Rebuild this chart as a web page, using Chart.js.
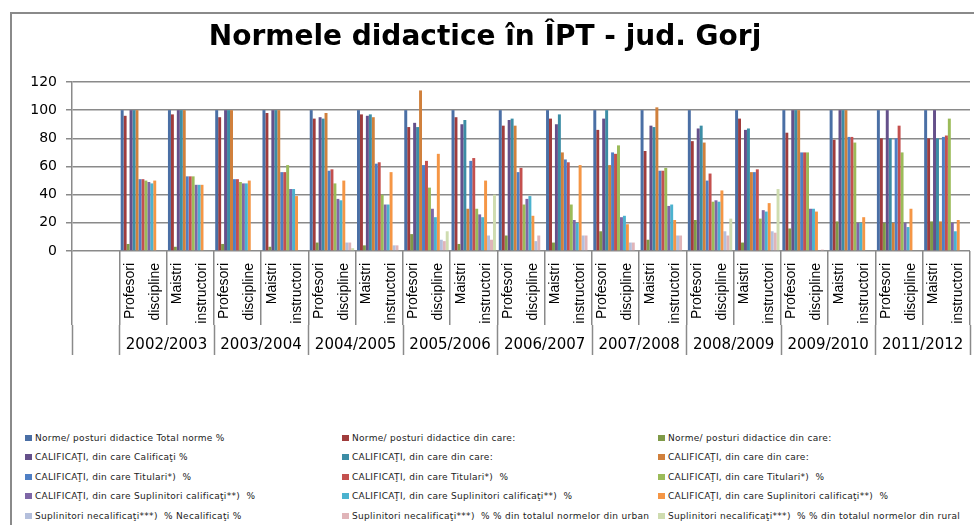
<!DOCTYPE html>
<html lang="ro">
<head>
    <meta charset="UTF-8">
    <title>Normele didactice în ÎPT - jud. Gorj</title>
    <script src="https://cdn.jsdelivr.net/npm/chart.js"></script>
    <style>
        body {
            margin: 0;
            background: #fff;
            overflow: hidden;
            font-family: 'DejaVu Sans', sans-serif;
        }
        #frame {
            position: absolute;
            left: 10px;
            top: 12px;
            width: 1000px;
            height: 600px;
            border: 2px solid #8a8a8a;
        }
        #chartBox {
            position: absolute;
            left: 0;
            top: 0;
            width: 974px;
            height: 360px;
        }
        #legend {
            position: absolute;
            left: 25px;
            top: 428px;
            display: grid;
            grid-template-columns: 317px 316px 320px;
            grid-auto-rows: 19.5px;
            font-size: 9px;
            letter-spacing: 0.3px;
            color: #222;
        }
        #legend .item {
            display: flex;
            align-items: center;
            white-space: pre;
        }
        #legend .box {
            width: 7px;
            height: 6px;
            margin-right: 3px;
            flex: none;
        }
    </style>
</head>
<body>
    <div id="frame"></div>
    <div id="chartBox"><canvas id="normeChart"></canvas></div>
    <div id="legend"></div>

    <script>
        // categorii: cate doua pe an scolar
        const categorii = [
            ['Profesori', 'discipline'], ['Maistri', 'instructori']
        ];
        const aniScolari = ['2002/2003', '2003/2004', '2004/2005', '2005/2006', '2006/2007',
                            '2007/2008', '2008/2009', '2009/2010', '2011/2012'];

        // valori %, cate una pe categorie (Profesori, Maistri pentru fiecare an)
        const normeTotal        = [100, 100, 100, 100, 100, 100, 100, 100, 100, 100, 100, 100, 100, 100, 100, 100, 100, 100];
        const normeDinCare1     = [96, 97, 95, 98, 94, 97, 88, 95, 89, 94, 86, 71, 78, 94, 84, 79, 80, 80];
        const normeDinCare2     = [5, 3, 5, 3, 6, 4, 12, 5, 11, 6, 14, 8, 22, 6, 16, 21, 20, 21];
        const calificati        = [100, 100, 100, 100, 95, 96, 91, 90, 93, 90, 94, 89, 87, 86, 100, 100, 100, 100];
        const califDinCare1     = [100, 100, 100, 100, 94, 97, 88, 93, 94, 97, 100, 88, 89, 87, 100, 100, 80, 80];
        const califDinCare2     = [100, 100, 100, 100, 98, 95, 114, 30, 89, 70, 61, 102, 77, 56, 100, 100, 20, 21];
        const titulari1         = [51, 53, 51, 56, 57, 62, 61, 64, 56, 65, 70, 57, 50, 56, 70, 81, 80, 81];
        const titulari2         = [51, 53, 51, 56, 58, 63, 64, 66, 59, 63, 69, 57, 55, 58, 70, 81, 89, 82];
        const titulari3         = [50, 53, 49, 61, 48, 40, 45, 30, 33, 33, 75, 59, 35, 23, 70, 77, 70, 94];
        const suplCalif1        = [49, 47, 48, 44, 37, 33, 30, 26, 37, 22, 24, 32, 36, 29, 30, 20, 20, 20];
        const suplCalif2        = [48, 47, 48, 44, 36, 33, 24, 24, 39, 20, 25, 33, 35, 28, 30, 20, 17, 14];
        const suplCalif3        = [50, 47, 50, 39, 50, 56, 69, 50, 25, 61, 19, 22, 43, 34, 28, 24, 30, 22];
        const necalificati      = [0, 0, 0, 0, 6, 4, 8, 11, 7, 11, 6, 11, 14, 14, 0, 0, 0, 0];
        const necalifUrban      = [0, 0, 0, 0, 6, 4, 7, 8, 11, 11, 6, 11, 11, 13, 1, 0, 0, 0];
        const necalifRural      = [0, 0, 0, 0, 2, 0, 14, 40, 0, 0, 0, 0, 23, 44, 0, 0, 0, 0];

        const serii = [
            { label: 'Norme/ posturi didactice Total norme %', data: normeTotal, color: '#4a6fa5' },
            { label: 'Norme/ posturi didactice din care:', data: normeDinCare1, color: '#a03c3c' },
            { label: 'Norme/ posturi didactice din care:', data: normeDinCare2, color: '#7f9a48' },
            { label: 'CALIFICAŢI, din care Calificaţi %', data: calificati, color: '#65508a' },
            { label: 'CALIFICAŢI, din care din care:', data: califDinCare1, color: '#3c8da5' },
            { label: 'CALIFICAŢI, din care din care:', data: califDinCare2, color: '#d0803c' },
            { label: 'CALIFICAŢI, din care Titulari*)  %', data: titulari1, color: '#4f7fc4' },
            { label: 'CALIFICAŢI, din care Titulari*)  %', data: titulari2, color: '#c4504e' },
            { label: 'CALIFICAŢI, din care Titulari*)  %', data: titulari3, color: '#9bbb59' },
            { label: 'CALIFICAŢI, din care Suplinitori calificaţi**)  %', data: suplCalif1, color: '#7e66a6' },
            { label: 'CALIFICAŢI, din care Suplinitori calificaţi**)  %', data: suplCalif2, color: '#4bb3cf' },
            { label: 'CALIFICAŢI, din care Suplinitori calificaţi**)  %', data: suplCalif3, color: '#f59645' },
            { label: 'Suplinitori necalificaţi***)  % Necalificaţi %', data: necalificati, color: '#b4bfdc' },
            { label: 'Suplinitori necalificaţi***)  % % din totalul normelor din urban', data: necalifUrban, color: '#e0b4b8' },
            { label: 'Suplinitori necalificaţi***)  % % din totalul normelor din rural', data: necalifRural, color: '#cfdcb0' }
        ];

        // prima categorie e goala (spatiu in stanga, ca in Excel)
        const etichete = [''];
        const eticheteAni = [''];
        aniScolari.forEach(an => {
            categorii.forEach(c => etichete.push(c));
            eticheteAni.push(an, '');
        });

        const gri = '#8a8a8a';

        // liniile dintre ani, pe randul cu anii (sub etichetele categoriilor)
        const liniiAni = {
            id: 'liniiAni',
            afterDraw(chart) {
                const x = chart.scales.x;
                const ani = chart.scales.ani;
                const ctx = chart.ctx;
                ctx.save();
                ctx.strokeStyle = gri;
                ctx.lineWidth = 1.5;
                ctx.beginPath();
                for (let b = 0; b <= etichete.length; b++) {
                    if (b > 1 && b % 2 === 0 && b < etichete.length) continue;
                    const px = Math.round(x.getPixelForValue(b - 0.5)) + 0.5;
                    ctx.moveTo(px, ani.top);
                    ctx.lineTo(px, ani.bottom);
                }
                ctx.stroke();
                ctx.restore();
            }
        };

        const chart = new Chart(document.getElementById('normeChart'), {
            type: 'bar',
            data: {
                labels: etichete,
                datasets: serii.map(s => ({
                    label: s.label,
                    data: [null].concat(s.data),
                    backgroundColor: s.color,
                    borderWidth: 0,
                    categoryPercentage: 0.94,
                    barPercentage: 1.0
                }))
            },
            options: {
                responsive: true,
                maintainAspectRatio: false,
                animation: false,
                layout: { padding: { left: 0, right: 4, top: 0, bottom: 5 } },
                plugins: {
                    legend: { display: false },
                    tooltip: { enabled: false },
                    title: {
                        display: true,
                        text: 'Normele didactice în ÎPT - jud. Gorj',
                        color: '#000',
                        font: { family: 'DejaVu Sans', size: 28, weight: 'bold' },
                        padding: { top: 21, bottom: 27.4 }
                    }
                },
                scales: {
                    y: {
                        min: 0,
                        max: 120,
                        ticks: {
                            stepSize: 20,
                            padding: 9,
                            color: '#000',
                            font: { family: 'DejaVu Sans', size: 14 }
                        },
                        grid: { color: gri, lineWidth: 1.5, tickLength: 6 },
                        border: { color: gri, width: 1.5 },
                        afterFit: s => { s.width = 72; }
                    },
                    x: {
                        type: 'category',
                        weight: 0,
                        border: { display: false },
                        grid: { drawOnChartArea: false, tickLength: 74, color: gri, lineWidth: 1.5 },
                        ticks: {
                            autoSkip: false,
                            minRotation: 90,
                            maxRotation: 90,
                            padding: -62,
                            labelOffset: -13,
                            color: '#000',
                            font: { family: 'Liberation Sans', size: 14, lineHeight: '25px' }
                        },
                        afterFit: s => { s.height = 74; }
                    },
                    ani: {
                        type: 'category',
                        labels: eticheteAni,
                        position: 'bottom',
                        weight: 1,
                        border: { display: false },
                        grid: { display: false, drawTicks: false },
                        ticks: {
                            autoSkip: false,
                            minRotation: 0,
                            maxRotation: 0,
                            padding: 11,
                            labelOffset: 23.6,
                            color: '#000',
                            font: { family: 'DejaVu Sans', size: 15 }
                        },
                        afterFit: s => { s.height = 30; }
                    }
                }
            },
            plugins: [liniiAni]
        });

        // legenda in 3 coloane, sub grafic
        const legend = document.getElementById('legend');
        chart.data.datasets.forEach(ds => {
            const item = document.createElement('div');
            item.className = 'item';
            const box = document.createElement('span');
            box.className = 'box';
            box.style.background = ds.backgroundColor;
            const txt = document.createElement('span');
            txt.textContent = ds.label;
            item.appendChild(box);
            item.appendChild(txt);
            legend.appendChild(item);
        });
    </script>
</body>
</html>
